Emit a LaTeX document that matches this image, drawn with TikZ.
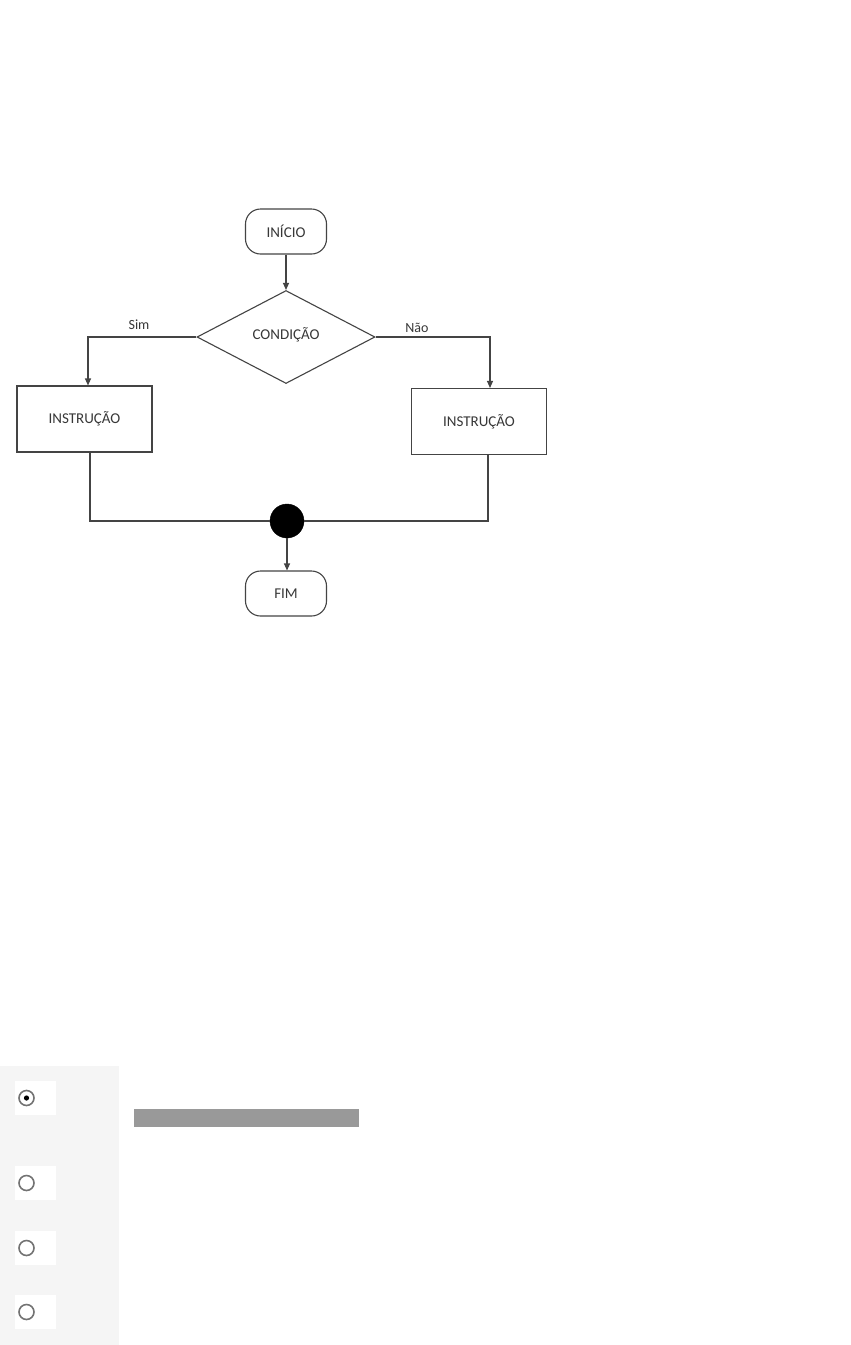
\documentclass[tikz,border=0pt]{standalone}
\usepackage{fontspec}
\setmainfont{Carlito}
\usetikzlibrary{shapes.geometric,arrows.meta}
\definecolor{txt}{HTML}{383838}
\definecolor{ln}{HTML}{444444}
\definecolor{panel}{HTML}{F5F5F5}
\definecolor{bar}{HTML}{999999}
\tikzset{
  base/.style={draw=ln, line width=1.1pt, text=txt, font=\fontsize{15}{17}\selectfont, inner sep=0pt},
  term/.style={base, rectangle, rounded corners=15pt, minimum width=81pt, minimum height=45pt},
  proc/.style={base, rectangle, minimum width=135pt, minimum height=66pt},
  dec/.style={base, diamond, minimum width=178pt, minimum height=93pt, aspect=1.9},
  joindot/.style={circle, fill=black, draw=black, minimum size=34pt, inner sep=0pt},
  con/.style={draw=ln, line width=1.1pt},
  arr/.style={con, -{Triangle[length=7pt,width=6pt]}},
  lab/.style={text=txt, font=\fontsize{14}{16}\selectfont, inner sep=0pt},
  radio/.style={draw=black!55, line width=1.6pt},
}
\begin{document}
\begin{tikzpicture}[x=1pt,y=-1pt]
\useasboundingbox (0,0) rectangle (851,1345);
\fill[white] (0,0) rectangle (851,1345);
% flowchart
\node[term] (ini) at (286,231.5) {INÍCIO};
\node[dec] (cond) at (286,337) {\raisebox{7pt}{CONDIÇÃO}};
\node[proc] (box1) at (84.5,419) {INSTRUÇÃO};
\node[proc] (box2) at (479,421.5) {INSTRUÇÃO};
\node[joindot] (jn) at (287,521) {};
\node[term] (fim) at (286,593.5) {FIM};
\node[lab] (sim) at (139,325) {Sim};
\node[lab] (nao) at (417,328) {Não};
\draw[arr] (ini) -- (cond);
\draw[arr] (cond.west) -| ([xshift=3.5pt]box1.north);
\draw[arr] (cond.east) -| ([xshift=11pt]box2.north);
\draw[con] ([xshift=5.5pt]box1.south) |- (jn.west);
\draw[con] ([xshift=9pt]box2.south) |- (jn.east);
\draw[arr] (jn.south) -- (jn.south |- fim.north);
% answer panel
\fill[panel] (0,1066) rectangle (119,1345);
\foreach \y in {1098,1183,1248,1312}{
  \fill[white] (15,\y-17) rectangle (56,\y+17);
  \draw[radio] (26.5,\y) circle (7.5);
}
\fill[black] (26.5,1098) circle (2.6);
\fill[bar] (134,1109) rectangle (359,1127);
\end{tikzpicture}
\end{document}
